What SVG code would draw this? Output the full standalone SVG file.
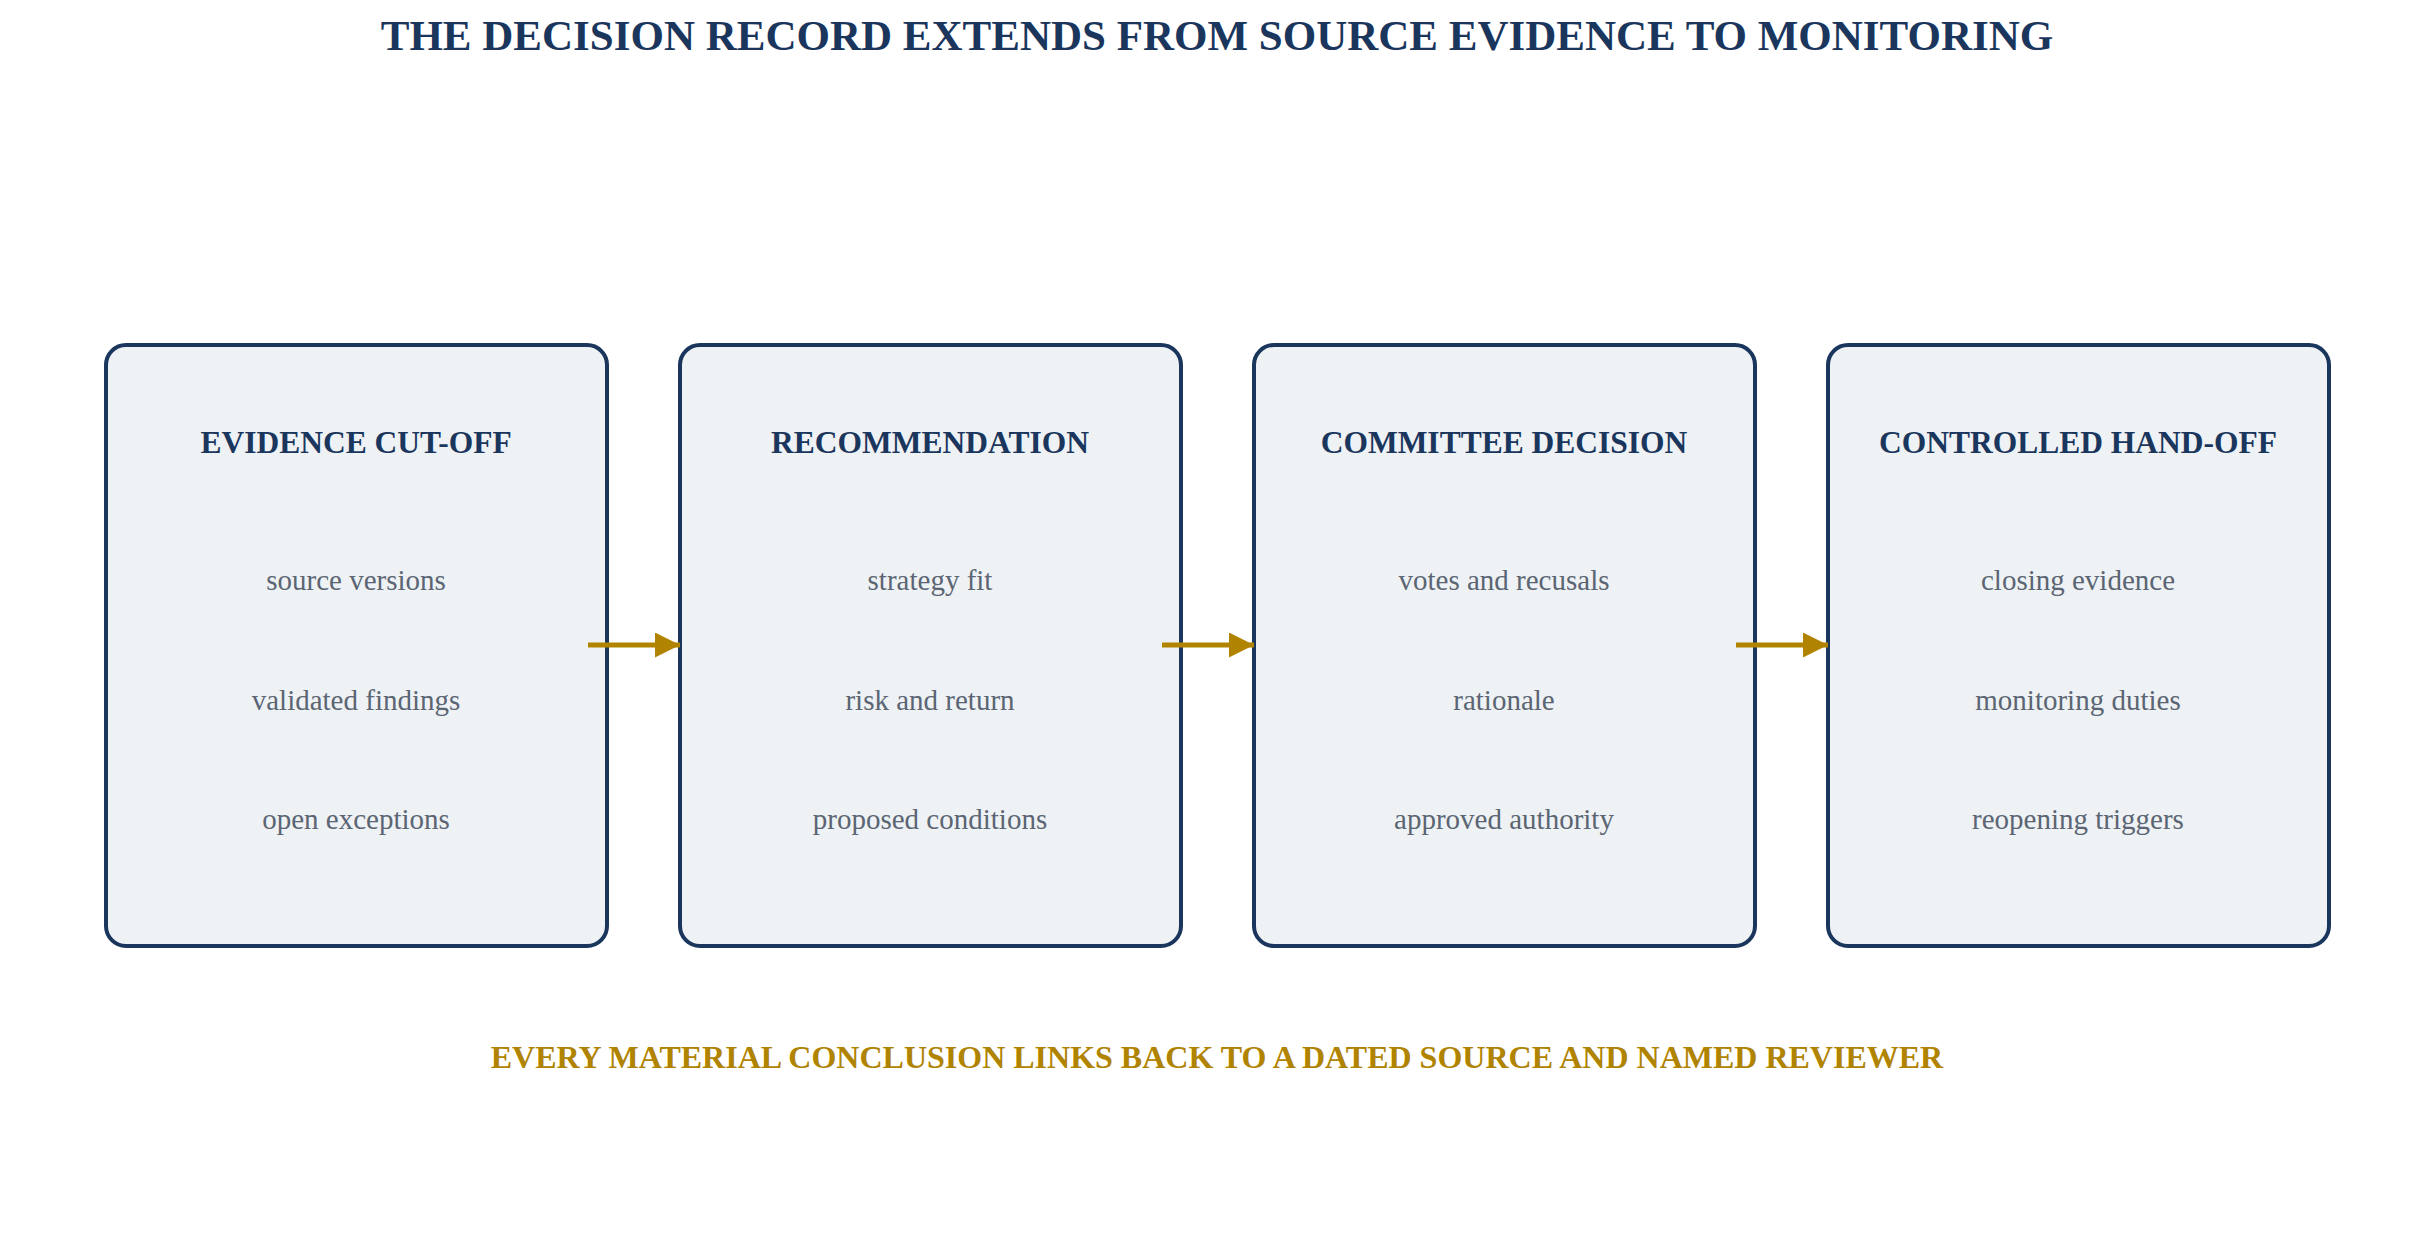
<svg xmlns="http://www.w3.org/2000/svg" width="2435" height="1248" viewBox="0 0 2435 1248">
<style>
.box{fill:#eef2f5;stroke:#1b365d;stroke-width:4}
.h{font-family:"Liberation Serif",serif;font-weight:bold;font-size:31.5px;fill:#1b365d;text-anchor:middle}
.i{font-family:"Liberation Serif",serif;font-size:29px;fill:#5b6573;text-anchor:middle}
.c{stroke:#b08300;stroke-width:5;fill:none}
</style>
<defs><marker id="a" markerWidth="5" markerHeight="5" refX="5" refY="2.5" orient="auto" markerUnits="strokeWidth"><path d="M0,0L5,2.5L0,5z" fill="#b08300"/></marker></defs>
<rect width="2435" height="1248" fill="#fff"/>
<text x="1217" y="50" text-anchor="middle" font-family="Liberation Serif,serif" font-weight="bold" font-size="43" fill="#1b365d">THE DECISION RECORD EXTENDS FROM SOURCE EVIDENCE TO MONITORING</text>
<g id="n1"><rect class="box" x="106" y="345" width="501" height="601" rx="20"/><text class="h" x="356" y="453">EVIDENCE CUT-OFF</text><text class="i" x="356" y="590">source versions</text><text class="i" x="356" y="710">validated findings</text><text class="i" x="356" y="829">open exceptions</text></g>
<g id="n2"><rect class="box" x="680" y="345" width="501" height="601" rx="20"/><text class="h" x="930" y="453">RECOMMENDATION</text><text class="i" x="930" y="590">strategy fit</text><text class="i" x="930" y="710">risk and return</text><text class="i" x="930" y="829">proposed conditions</text></g>
<g id="n3"><rect class="box" x="1254" y="345" width="501" height="601" rx="20"/><text class="h" x="1504" y="453">COMMITTEE DECISION</text><text class="i" x="1504" y="590">votes and recusals</text><text class="i" x="1504" y="710">rationale</text><text class="i" x="1504" y="829">approved authority</text></g>
<g id="n4"><rect class="box" x="1828" y="345" width="501" height="601" rx="20"/><text class="h" x="2078" y="453">CONTROLLED HAND-OFF</text><text class="i" x="2078" y="590">closing evidence</text><text class="i" x="2078" y="710">monitoring duties</text><text class="i" x="2078" y="829">reopening triggers</text></g>
<g id="connectors">
<line class="c" x1="588" y1="645" x2="680" y2="645" marker-end="url(#a)"/>
<line class="c" x1="1162" y1="645" x2="1254" y2="645" marker-end="url(#a)"/>
<line class="c" x1="1736" y1="645" x2="1828" y2="645" marker-end="url(#a)"/>
</g>
<text x="1217" y="1068" text-anchor="middle" font-family="Liberation Serif,serif" font-weight="bold" font-size="32" fill="#b08300">EVERY MATERIAL CONCLUSION LINKS BACK TO A DATED SOURCE AND NAMED REVIEWER</text>
</svg>
